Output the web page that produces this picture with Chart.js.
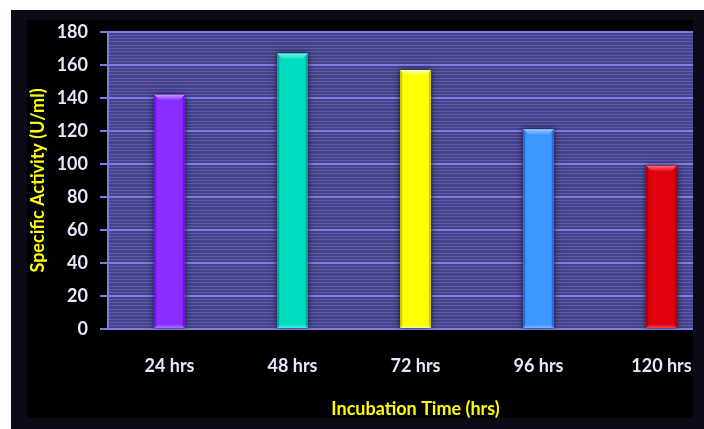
<!DOCTYPE html>
<html>
<head>
<meta charset="utf-8">
<script src="https://cdn.jsdelivr.net/npm/chart.js@4.4.1/dist/chart.umd.min.js"></script>
<style>
  html, body { margin: 0; padding: 0; background: #ffffff; width: 704px; height: 429px; overflow: hidden; }
  #frame { position: absolute; left: 11px; top: 10px; width: 693px; height: 419px; background: #0b0b17; }
  #panel { position: absolute; left: 16px; top: 10px; width: 666px; height: 398px; background: #000000; overflow: hidden; }
  #panel canvas { position: absolute; left: 0; top: 0; }
</style>
</head>
<body>
<div id="frame"><div id="panel"><canvas id="chart" width="700" height="398"></canvas></div></div>
<script>
// Incubation time vs. specific enzyme activity
const categories = ['24 hrs', '48 hrs', '72 hrs', '96 hrs', '120 hrs'];
const activity = [142, 167, 157, 121, 99];
const yTickLabels = [0, 20, 40, 60, 80, 100, 120, 140, 160, 180];
const yTitle = 'Specific Activity (U/ml)';
const xTitle = 'Incubation Time (hrs)';

// bar styling
const barColors  = ['#8a2dff', '#00dcc0', '#ffff00', '#3d97ff', '#e2000c'];
const capColors  = ['#c79bff', '#72f7e8', '#ffffb8', '#9ccdff', '#ff6f82'];
const edgeColors = ['#6a18e0', '#00a892', '#cfcf00', '#1f6ee6', '#a6000e'];

const MAJOR = '#7e7ce2';
const MINOR = '#5e5cab';
const PLOT_BG = '#464489';
const tickFont = { family: 'Lato', weight: 'bold', size: 18 };
const titleFont = { family: 'Lato', weight: 'bold', size: 18 };

const isMajor = v => yTickLabels.includes(v);

const plotBackground = {
  id: 'plotBackground',
  beforeDraw(chart) {
    const { ctx, chartArea: a } = chart;
    ctx.save();
    ctx.fillStyle = PLOT_BG;
    ctx.fillRect(a.left, a.top, a.right - a.left, a.bottom - a.top);
    ctx.restore();
  }
};

// soft shadow under the bars plus a bevelled cap and darker side edges
const bevel = {
  id: 'bevel',
  beforeDatasetsDraw(chart) {
    const ctx = chart.ctx;
    ctx.save();
    ctx.shadowColor = 'rgba(8, 6, 40, 0.85)';
    ctx.shadowBlur = 6;
  },
  afterDatasetsDraw(chart) {
    const ctx = chart.ctx;
    ctx.restore();
    const meta = chart.getDatasetMeta(0);
    meta.data.forEach((bar, i) => {
      const { x, y, base, width } = bar.getProps(['x', 'y', 'base', 'width'], true);
      const l = x - width / 2, r = x + width / 2;
      ctx.save();
      ctx.fillStyle = edgeColors[i];
      ctx.fillRect(l, y, 2, base - y);
      ctx.fillRect(r - 2, y, 2, base - y);
      const capH = 6, inset = 6;
      const g = ctx.createLinearGradient(0, y, 0, y + capH);
      g.addColorStop(0, capColors[i]);
      g.addColorStop(1, barColors[i]);
      ctx.fillStyle = g;
      ctx.beginPath();
      ctx.moveTo(l, y);
      ctx.lineTo(r, y);
      ctx.lineTo(r - inset, y + capH);
      ctx.lineTo(l + inset, y + capH);
      ctx.closePath();
      ctx.fill();
      const gb = ctx.createLinearGradient(0, base - 4, 0, base);
      gb.addColorStop(0, barColors[i]);
      gb.addColorStop(1, capColors[i]);
      ctx.fillStyle = gb;
      ctx.beginPath();
      ctx.moveTo(l + 3, base - 4);
      ctx.lineTo(r - 3, base - 4);
      ctx.lineTo(r, base);
      ctx.lineTo(l, base);
      ctx.closePath();
      ctx.globalAlpha = 0.6;
      ctx.fill();
      ctx.restore();
    });
  }
};

new Chart(document.getElementById('chart'), {
  type: 'bar',
  data: {
    labels: categories,
    datasets: [{
      data: activity,
      backgroundColor: barColors,
      borderWidth: 0,
      barPercentage: 0.248,
      categoryPercentage: 1
    }]
  },
  options: {
    responsive: false,
    devicePixelRatio: 1,
    animation: false,
    layout: { padding: { top: 12, right: 4, left: 0, bottom: 0 } },
    plugins: { legend: { display: false }, tooltip: { enabled: false } },
    scales: {
      x: {
        offset: true,
        grid: { display: false, drawTicks: false },
        border: { display: true, color: MAJOR, width: 2 },
        ticks: { color: '#e6e6ff', font: tickFont, padding: 26, maxRotation: 0 },
        title: { display: true, text: xTitle, color: '#ffff00', font: Object.assign({ lineHeight: 1.0 }, titleFont), padding: 0 },
        afterFit(scale) { scale.height = 89; }
      },
      y: {
        min: 0,
        max: 180,
        ticks: {
          stepSize: 2,
          autoSkip: false,
          color: '#e6e6ff',
          font: tickFont,
          padding: 12,
          callback: v => isMajor(v) ? String(v) : ''
        },
        grid: {
          color: c => isMajor(c.tick.value) ? MAJOR : MINOR,
          lineWidth: c => isMajor(c.tick.value) ? 2 : 1,
          tickColor: c => isMajor(c.tick.value) ? MAJOR : 'rgba(0,0,0,0)',
          tickLength: 8,
          drawTicks: true
        },
        border: { display: true, color: MAJOR, width: 2 },
        title: { display: true, text: yTitle, color: '#ffff00', font: titleFont, padding: 0 },
        afterFit(scale) {
          scale.width = 81;
          scale.paddingTop = 0;
          scale.paddingBottom = 0;
        }
      }
    }
  },
  plugins: [plotBackground, bevel]
});
</script>
</body>
</html>
